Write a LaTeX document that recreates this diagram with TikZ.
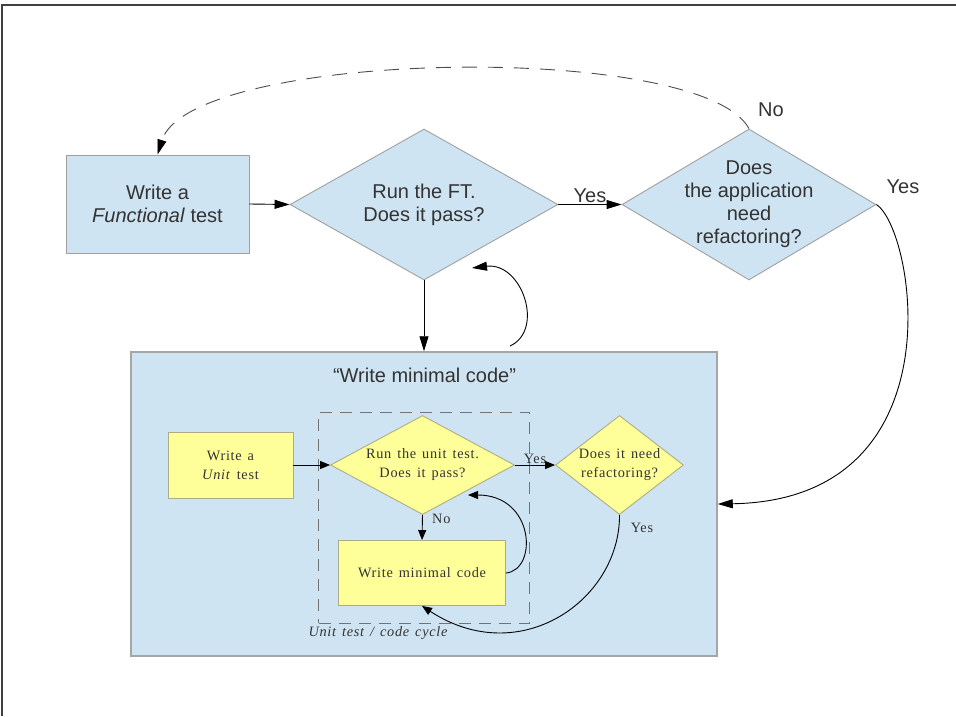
\documentclass[tikz,border=0pt]{standalone}
\usepackage{fontspec}
\setmainfont{Liberation Sans}
\newfontfamily\cyclefont[LetterSpace=5,WordSpace=1.4]{Liberation Serif}
\usepackage{xcolor}
\usetikzlibrary{shapes.geometric,arrows.meta}
\definecolor{boxblue}{HTML}{CFE4F2}
\definecolor{boxyellow}{HTML}{FFFF99}
\definecolor{lineyellow}{HTML}{ADAD85}
\definecolor{linegray}{HTML}{A0A0A0}
\definecolor{txtgray}{HTML}{333333}

\begin{document}
\begin{tikzpicture}[x=1pt,y=-1pt,
		bluebox/.style={draw=linegray,fill=boxblue,line width=0.9pt,inner sep=0pt},
		yellowbox/.style={draw=lineyellow,fill=boxyellow,line width=0.9pt,inner sep=0pt},
		bigtext/.style={text=txtgray,font=\fontsize{20}{23}\selectfont,align=center},
		smalltext/.style={text=txtgray,font=\cyclefont\fontsize{14.3}{19}\selectfont,align=center},
		bigarrow/.style={-{Triangle[length=15pt,width=9pt,black]},line width=0.9pt},
		smallarrow/.style={-{Triangle[length=10pt,width=8pt]},line width=0.9pt}]
		\useasboundingbox (0,0) rectangle (956,716);
		\draw[black!75,line width=1.5pt] (956,5) -- (2,5) -- (2,716);
		\node[bluebox,bigtext,minimum width=183pt,minimum height=98pt] (ftbox) at (157.5,204) {Write a\\\emph{Functional} test};
		\node[bluebox,diamond,minimum width=268pt,minimum height=151pt] (ftq) at (424,204.5) {};
		\node[bigtext] (ftqtext) at (ftq) {Run the FT.\\Does it pass?};
		\node[bluebox,diamond,minimum width=254pt,minimum height=151pt] (refq) at (749,204.5) {};
		\node[bigtext] (refqtext) at (refq) {Does\\the application\\need\\refactoring?};
		\node[bluebox,draw=black!35,line width=1.5pt,minimum width=586pt,minimum height=304pt] (cyclebox) at (424,504) {};
		\node[bigtext] (cycletitle) at (424.5,375) {“Write minimal code”};
		\node[draw=black!55,dash pattern=on 12pt off 8pt,line width=0.9pt,minimum width=211pt,minimum height=211pt] (cycleframe) at (424,517.8) {};
		\node[yellowbox,smalltext,minimum width=125pt,minimum height=66pt] (unitbox) at (230.5,465) {Write a\\\emph{Unit} test};
		\node[yellowbox,diamond,minimum width=184pt,minimum height=99pt] (unitq) at (422.5,465) {};
		\node[smalltext] (unitqtext) at (unitq) {Run the unit test.\\Does it pass?};
		\node[yellowbox,smalltext,minimum width=167pt,minimum height=65pt] (codebox) at (422,573) {Write minimal code};
		\node[yellowbox,diamond,minimum width=128pt,minimum height=99pt] (needq) at (619.5,465) {};
		\node[smalltext] (needqtext) at (needq) {Does it need\\refactoring?};
		\node[smalltext,font=\cyclefont\itshape\fontsize{14.3}{19}\selectfont] (cyclename) at (378,633) {Unit test / code cycle};
		\coordinate (loopout) at (510,346);
		\coordinate (loopin) at (472,268);
		\coordinate (codeloopin) at (468,495);
		\draw[bigarrow] (ftbox.east) -- (ftq.west);
		\draw[bigarrow] (ftq.east) -- node[bigtext,above,inner sep=1pt] (yes1) {Yes} (refq.west);
		\draw[bigarrow] (ftq.south) -- (cyclebox.north);
		\draw[bigarrow] (loopout) .. controls (545,330) and (522,262) .. (loopin);
		\draw[bigarrow,black!70,dash pattern=on 15pt off 11pt] (refq.north) .. controls (700,40) and (190,50) .. (ftbox.north);
		\node[bigtext] (no1) at (771,110) {No};
		\draw[bigarrow] (refq.east) .. controls (915,230) and (960,500) .. (cyclebox.east);
		\node[bigtext] (yes2) at (903,187) {Yes};
		\draw[smallarrow] (unitbox.east) -- (unitq.west);
		\draw[smallarrow] (unitq.east) -- node[smalltext,above,inner sep=1pt] (yes3) {Yes} (needq.west);
		\draw[smallarrow] (unitq.south) -- node[smalltext,pos=0.15,right=6pt] (no2) {No} (codebox.north);
		\draw[smallarrow] (codebox.east) .. controls (538,570) and (535,495) .. (codeloopin);
		\draw[smallarrow] (needq.south) .. controls (620,600) and (520,670) .. (codebox.south);
		\node[smalltext] (yes4) at (642,528) {Yes};
	\end{tikzpicture}
\end{document}
